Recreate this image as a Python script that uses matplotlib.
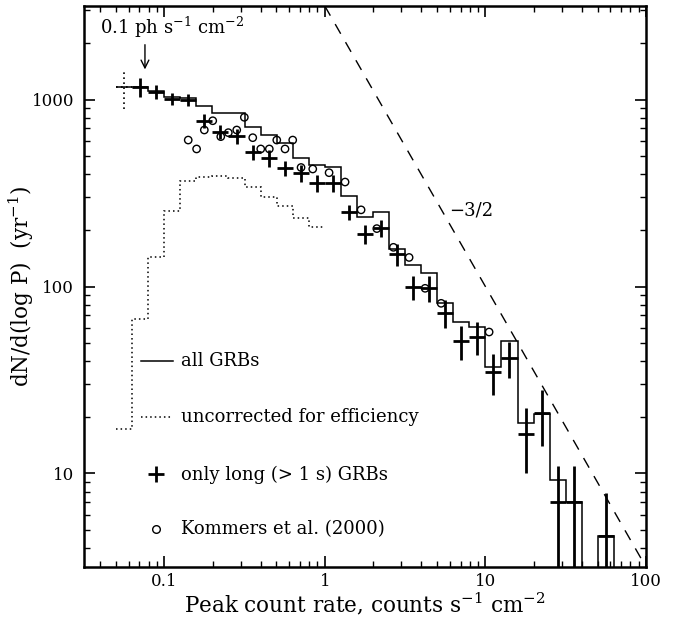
import numpy as np
import matplotlib.pyplot as plt
from matplotlib.ticker import FixedLocator, FixedFormatter, NullFormatter, LogLocator

plt.rcParams['font.family'] = 'DejaVu Serif'
plt.rcParams['mathtext.default'] = 'regular'

# === DATA ===
# histogram bin edges in log10(P), 0.1 dex wide
log_edges = [-1.3, -1.2, -1.1, -1.0, -0.9, -0.8, -0.7, -0.6, -0.5, -0.4, -0.3,
             -0.2, -0.1, 0.0, 0.1, 0.2, 0.3, 0.4, 0.5, 0.6, 0.7, 0.8, 0.9, 1.0,
             1.1, 1.2, 1.3, 1.4, 1.5, 1.6, 1.7, 1.8, 1.9]

# all GRBs (efficiency corrected)
all_grbs = [1162, 1162, 1115, 1035, 1015, 923, 844, 844, 715, 646, 583, 487,
            449, 433, 305, 236, 249, 159, 130, 118.5, 81.3, 64.8, 60.5, 37.1,
            51.1, 18.6, 20.8, 9.23, 7.0, 0, 4.63, 0]

# uncorrected for efficiency (first 13 bins)
uncorrected = [17.4, 66.8, 144.4, 254, 368, 387, 391, 379, 342, 302, 270, 232, 207]

# only long GRBs, bin centres
long_logp = [-1.15, -1.05, -0.95, -0.85, -0.75, -0.65, -0.55, -0.45, -0.35,
             -0.25, -0.15, -0.05, 0.05, 0.15, 0.25, 0.35, 0.45, 0.55, 0.65,
             0.75, 0.85, 0.95, 1.05, 1.15, 1.25, 1.35, 1.45, 1.55, 1.75]
long_rate = [1162, 1101, 1006, 994, 770, 673, 638, 522, 485, 429, 403, 356,
             356, 250, 191, 205.5, 149, 99.4, 98.5, 72.6, 51.1, 53.7, 34.9,
             41.7, 16.2, 21.0, 7.0, 7.0, 4.63]
long_err = [136, 99, 77, 76, 69, 61, 57, 47, 50, 39, 42, 37, 37, 24, 22, 21,
            19.5, 14.4, 15.7, 12.6, 10.4, 10.9, 8.7, 9.1, 6.1, 6.9, 3.9, 3.9, 3.2]

# first (threshold) point, drawn dotted
thr_logp = [-1.25]
thr_rate = [1162]
thr_err = [270]

# Kommers et al. (2000)
kommers_p = [0.141, 0.159, 0.1776, 0.2004, 0.2249, 0.2506, 0.2827, 0.3153,
             0.3557, 0.399, 0.451, 0.502, 0.565, 0.631, 0.711, 0.841, 1.063,
             1.337, 1.682, 2.107, 2.674, 3.349, 4.213, 5.301, 10.55]
kommers_n = [607, 544, 687, 770, 633, 665, 687, 803, 625, 544, 544, 607, 544,
             607, 433, 425, 406, 362, 257, 204, 162, 143, 97.8, 81.3, 57.1]

# -3/2 reference slope, normalised at P = 1
slope_norm = 3162
slope_p = [1, 100]

HALF_BIN = 0.05  # dex

# === PLOT ===
fig = plt.figure(figsize=(6.85, 6.2), dpi=100)
ax = fig.add_axes([0.1226, 0.0855, 0.8204, 0.9048])
ax.set_xscale('log')
ax.set_yscale('log')

edges = 10 ** np.array(log_edges)
floor = 1e-3
vals = np.array(all_grbs, dtype=float)
ax.stairs(np.where(vals > 0, vals, floor), edges, baseline=None,
          color='black', lw=1.1)
unc = np.array(uncorrected, dtype=float)
ax.stairs(unc, edges[:len(unc) + 1], baseline=None, color='black', lw=1.1,
          ls=(0, (1, 2)))

lp = np.array(long_logp)
xc = 10 ** lp
xerr = [xc - 10 ** (lp - HALF_BIN), 10 ** (lp + HALF_BIN) - xc]
ax.errorbar(xc, long_rate, xerr=xerr, yerr=long_err, fmt='none',
            ecolor='black', elinewidth=2, capsize=0)

tp = np.array(thr_logp)
txc = 10 ** tp
eb = ax.errorbar(txc, thr_rate, xerr=[txc - 10 ** (tp - HALF_BIN), 10 ** (tp + HALF_BIN) - txc],
                 yerr=thr_err, fmt='none', ecolor='black', elinewidth=1.2, capsize=0)
for lc in eb.lines[2]:
    lc.set_linestyle((0, (1, 2)))

ax.scatter(kommers_p, kommers_n, s=28, facecolors='none', edgecolors='black',
           linewidths=1.0, zorder=3)

sp = np.array(slope_p, dtype=float)
ax.plot(sp, slope_norm * sp ** -1.5, color='black', lw=1.0, ls=(0, (8, 7)))

# === AXES ===
ax.set_xlim(10 ** -1.5, 100)
ax.set_ylim(10 ** 0.5, 10 ** 3.5)
ax.xaxis.set_major_locator(FixedLocator([0.1, 1, 10, 100]))
ax.xaxis.set_major_formatter(FixedFormatter(['0.1', '1', '10', '100']))
ax.yaxis.set_major_locator(FixedLocator([10, 100, 1000]))
ax.yaxis.set_major_formatter(FixedFormatter(['10', '100', '1000']))
ax.xaxis.set_minor_locator(LogLocator(subs=np.arange(2, 10)))
ax.yaxis.set_minor_locator(LogLocator(subs=np.arange(2, 10)))
ax.xaxis.set_minor_formatter(NullFormatter())
ax.yaxis.set_minor_formatter(NullFormatter())
ax.tick_params(which='both', direction='in', top=True, right=True, labelsize=12)
ax.tick_params(which='major', length=8, width=1.2)
ax.tick_params(which='minor', length=4, width=1.0)
ax.tick_params(axis='x', which='major', pad=4)
ax.tick_params(axis='y', which='major', pad=7)
for s in ax.spines.values():
    s.set_linewidth(1.8)

ax.set_xlabel('Peak count rate, counts s$^{-1}$ cm$^{-2}$', fontsize=15.5)
ax.set_ylabel('dN/d(log P)  (yr$^{-1}$)', fontsize=15.5)
ax.xaxis.set_label_coords(0.5, -0.043)
ax.yaxis.set_label_coords(-0.085, 0.5)

# === ANNOTATIONS ===
ax.text(0.0285, 0.961, '0.1 ph s$^{-1}$ cm$^{-2}$', transform=ax.transAxes,
        fontsize=13, va='center', ha='left')
ax.annotate('', xy=(0.1085, 0.882), xytext=(0.1085, 0.936),
            xycoords='axes fraction', textcoords='axes fraction',
            arrowprops=dict(arrowstyle='->', lw=1.0, color='black',
                            mutation_scale=14))
ax.text(0.689, 0.636, '\u22123/2', transform=ax.transAxes, fontsize=13,
        ha='center', va='center')

# hand-made key
ax.plot([0.101, 0.158], [0.367, 0.367], transform=ax.transAxes, color='black', lw=1.1)
ax.text(0.173, 0.367, 'all GRBs', transform=ax.transAxes, fontsize=13, va='center')
ax.plot([0.101, 0.158], [0.268, 0.268], transform=ax.transAxes, color='black',
        lw=1.1, ls=(0, (1, 2)))
ax.text(0.173, 0.268, 'uncorrected for efficiency', transform=ax.transAxes,
        fontsize=13, va='center')
ax.plot([0.129], [0.165], transform=ax.transAxes, marker='+', ms=12, mew=2,
        color='black')
ax.text(0.173, 0.165, 'only long (> 1 s) GRBs', transform=ax.transAxes,
        fontsize=13, va='center')
ax.plot([0.129], [0.068], transform=ax.transAxes, marker='o', ms=5.5, mfc='none',
        mec='black', mew=1.0)
ax.text(0.173, 0.068, 'Kommers et al. (2000)', transform=ax.transAxes,
        fontsize=13, va='center')

fig.savefig('out.png', dpi=100)
